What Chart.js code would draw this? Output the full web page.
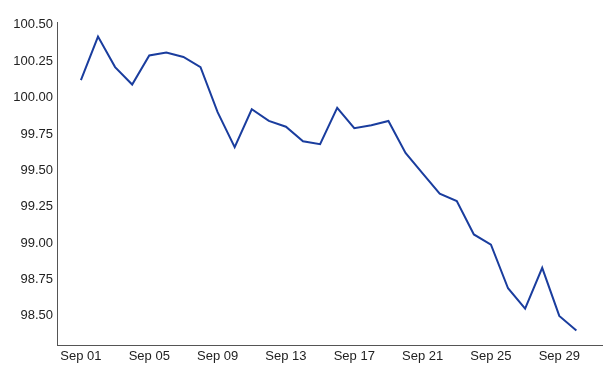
<!DOCTYPE html>
<html>
<head>
<meta charset="utf-8">
<script src="https://cdn.jsdelivr.net/npm/chart.js@4"></script>
<style>
  html, body { margin: 0; padding: 0; background: #fff; }
  #wrap { width: 612px; height: 375px; }
</style>
</head>
<body>
<div id="wrap"><canvas id="myChart" width="612" height="375"></canvas></div>
<script>
// day of month for each point (September)
const days = [1, 2, 3, 4, 5, 6, 7, 8, 9, 10, 11, 12, 13, 14, 15,
              16, 17, 18, 19, 20, 21, 22, 23, 24, 25, 26, 27, 28, 29, 30];
const values = [100.12, 100.42, 100.21, 100.09, 100.29, 100.31, 100.28, 100.21, 99.90, 99.66,
                99.92, 99.84, 99.80, 99.70, 99.68, 99.93, 99.79, 99.81, 99.84, 99.62,
                99.48, 99.34, 99.29, 99.06, 98.99, 98.69, 98.55, 98.83, 98.50, 98.40];
const xTickDays = [1, 5, 9, 13, 17, 21, 25, 29];
const yTicks = [98.5, 98.75, 99.0, 99.25, 99.5, 99.75, 100.0, 100.25, 100.5];
const monthName = 'Sep';

const ctx = document.getElementById('myChart');

const chart = new Chart(ctx, {
  type: 'line',
  data: {
    datasets: [{
      label: 'Value',
      data: days.map((d, i) => ({x: d, y: values[i]})),
      borderColor: '#1a3d9e',
      borderWidth: 2,
      pointRadius: 0,
      tension: 0,
      fill: false
    }]
  },
  options: {
    responsive: false,
    animation: false,
    layout: { padding: { top: 22, right: 10, bottom: 0, left: 0 } },
    plugins: { legend: { display: false }, tooltip: { enabled: false } },
    scales: {
      x: {
        type: 'linear',
        min: -0.4,
        max: 31.5,
        grid: { display: false, drawTicks: false },
        border: { display: true, color: '#555', width: 1 },
        afterBuildTicks: s => { s.ticks = xTickDays.map(v => ({value: v})); },
        afterFit: s => { s.height = 30; },
        ticks: {
          padding: 4,
          maxRotation: 0,
          autoSkip: false,
          color: '#222',
          font: { family: 'Liberation Sans', size: 13 },
          callback: v => monthName + ' ' + String(v).padStart(2, '0')
        }
      },
      y: {
        min: 98.3,
        max: 100.52,
        grid: { display: false, drawTicks: false },
        border: { display: true, color: '#555', width: 1 },
        afterBuildTicks: s => { s.ticks = yTicks.map(v => ({value: v})); },
        afterFit: s => { s.width = 57; },
        ticks: {
          padding: 4,
          autoSkip: false,
          color: '#222',
          font: { family: 'Liberation Sans', size: 13 },
          callback: v => v.toFixed(2)
        }
      }
    }
  }
});
</script>
</body>
</html>
